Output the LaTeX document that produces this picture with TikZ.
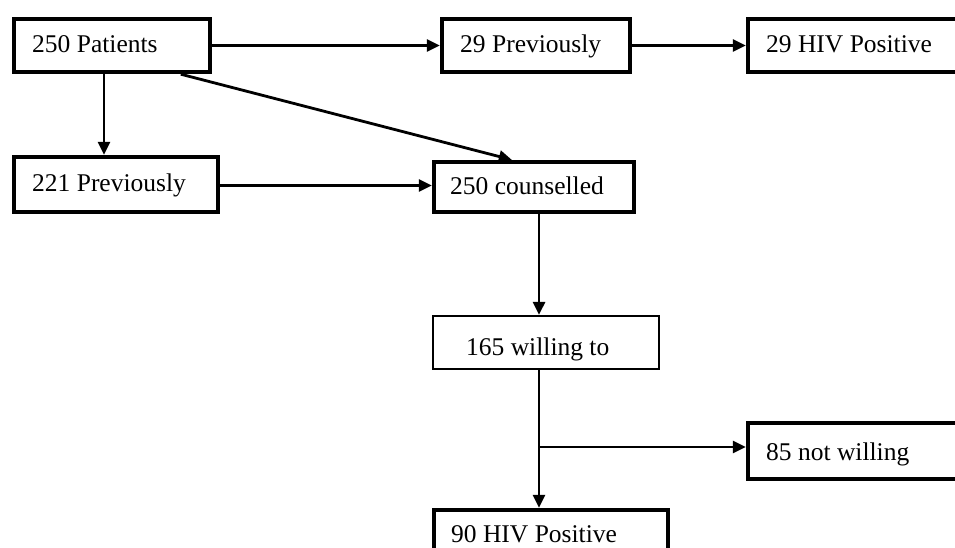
\documentclass[tikz,border=0pt]{standalone}
\usepackage{fontspec}
\setmainfont{Liberation Serif}
\usetikzlibrary{arrows.meta}
\begin{document}
\begin{tikzpicture}[x=1pt,y=-1pt,
  boxthick/.style={draw, line width=4.4pt, inner sep=0pt},
  boxthin/.style={draw, line width=2.2pt, inner sep=0pt},
  lbl/.style={anchor=base west, inner sep=0pt, font=\fontsize{25.5}{30}\selectfont},
  conn/.style={line width=2.8pt, -{Triangle[length=13pt,width=12pt]}}]
\useasboundingbox (0,0) rectangle (955,547);
\clip (0,0) rectangle (955,547);
% boxes
\node[boxthick, minimum width=196pt, minimum height=53pt] (b1) at (112,45.5) {};
\node[boxthick, minimum width=188pt, minimum height=53pt] (b2) at (536,45.5) {};
\node[boxthick, minimum width=227pt, minimum height=53pt] (b3) at (861.5,45.5) {};
\node[boxthick, minimum width=204pt, minimum height=55pt] (b4) at (116,184.5) {};
\node[boxthick, minimum width=200pt, minimum height=50pt] (b5) at (534,187) {};
\node[boxthin, minimum width=226pt, minimum height=53pt] (b6) at (546,342.5) {};
\node[boxthick, minimum width=227pt, minimum height=56pt] (b7) at (861.5,451) {};
\node[boxthick, minimum width=234pt, minimum height=80pt] (b8) at (551,550) {};
% labels
\node[lbl] (t1) at (32,52) {250 Patients};
\node[lbl] (t2) at (460,52) {29 Previously};
\node[lbl] (t3) at (766,52) {29 HIV Positive};
\node[lbl] (t4) at (32,191) {221 Previously};
\node[lbl] (t5) at (450,194) {250 counselled};
\node[lbl] (t6) at (466,355) {165 willing to};
\node[lbl] (t7) at (766,460) {85 not willing};
\node[lbl] (t8) at (451,542) {90 HIV Positive};
% connectors
\coordinate (vx) at (539,0);
\coordinate (v1) at (104,0);
\coordinate (jn) at (539,447);
\draw[conn] (b1.east) -- (b2.west);
\draw[conn] (b2.east) -- (b3.west);
\draw[conn] (b1.south -| v1) -- (b4.north -| v1);
\draw[conn] ([xshift=169pt]b1.south west) -- ([xshift=80pt]b5.north west);
\draw[conn] ([yshift=-1pt]b4.east) -- ([yshift=-1pt]b4.east -| b5.west);
\draw[conn] (b5.south -| vx) -- (b6.north -| vx);
\draw[conn] (b6.south -| vx) -- (b8.north -| vx);
\draw[conn] (jn) -- (jn -| b7.west);
\end{tikzpicture}
\end{document}
